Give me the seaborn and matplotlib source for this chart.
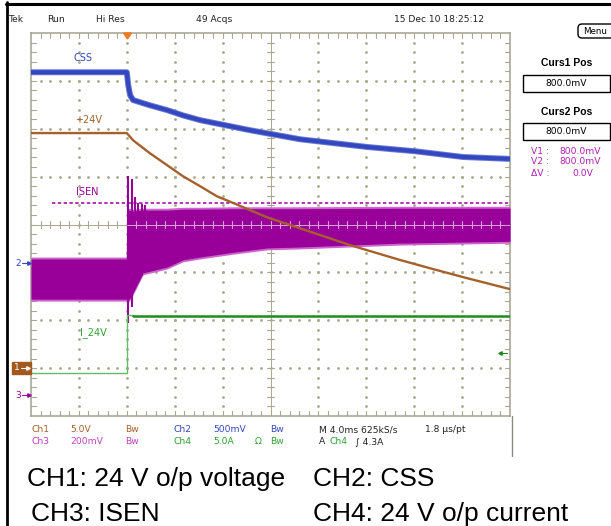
import numpy as np
import matplotlib
matplotlib.use("Agg")
import matplotlib.pyplot as plt
import seaborn as sns
import pandas as pd
from matplotlib import font_manager
from matplotlib.patches import FancyBboxPatch, Rectangle, Polygon

# ---------------- data (screen divisions: x 0..10, y 0..8) ----------------
css_x = [0.00, 2.00, 2.03, 2.07, 2.13, 2.48, 2.84, 3.17, 3.53, 4.57, 5.62, 7.01, 8.02, 9.02, 10.00]
css_y = [7.18, 7.18, 6.91, 6.70, 6.60, 6.49, 6.39, 6.28, 6.18, 5.97, 5.78, 5.62, 5.53, 5.41, 5.37]

v24_x = [0.00, 2.00, 2.13, 2.48, 2.84, 3.17, 3.53, 3.88, 4.22, 4.93, 5.62, 6.66, 7.70, 8.39, 9.10, 10.00]
v24_y = [5.91, 5.91, 5.76, 5.49, 5.24, 5.01, 4.80, 4.59, 4.45, 4.15, 3.92, 3.57, 3.26, 3.07, 2.88, 2.65]

isen_x  = [0.00, 1.99, 2.00, 2.04, 2.13, 2.34, 2.84, 3.17, 3.53, 4.22, 4.93, 5.62, 7.70, 10.00]
isen_hi = [3.28, 3.28, 4.30, 4.30, 4.28, 4.30, 4.30, 4.32, 4.32, 4.33, 4.33, 4.33, 4.34, 4.34]
isen_lo = [2.44, 2.44, 2.44, 2.42, 2.57, 2.99, 3.11, 3.26, 3.32, 3.42, 3.51, 3.53, 3.61, 3.65]

spk_x   = [2.03, 2.10, 2.17, 2.24, 2.31, 2.38]
spk_top = [5.01, 4.95, 4.57, 4.45, 4.42, 4.40]
spk_bot = [1.94, 2.28, 2.70, 2.85, 2.93, 3.00]

isen_ref_x = [0.44, 10.00]
isen_ref_y = [4.45, 4.45]

i24_pre_x  = [0.00, 2.00, 2.00, 2.13]
i24_pre_y  = [0.90, 0.90, 2.12, 2.12]
i24_post_x = [2.13, 10.00]
i24_post_y = [2.09, 2.09]

trace_labels = ["CSS", "+24V", "ISEN", "I_24V"]
bottom_labels = ["CH1: 24 V o/p voltage", "CH2: CSS", "CH3: ISEN", "CH4: 24 V o/p current"]

# ---------------- styling ----------------
sns.set_theme(style="white")
names = {f.name for f in font_manager.fontManager.ttflist}
NARROW = ['Liberation Sans Narrow', 'DejaVu Sans'] if 'Liberation Sans Narrow' in names else ['DejaVu Sans']
plt.rcParams['font.family'] = ['Liberation Sans', 'DejaVu Sans']

C_CSS = '#3347c0'
C_V24 = '#a5602c'
C_ISEN = '#990099'
C_ISEN_L = '#cc66cc'
C_I24 = '#1e8c1e'
C_I24_L = '#66bb66'
C_GRID = '#a9a98f'

W, H = 611, 526
fig = plt.figure(figsize=(W / 100, H / 100), dpi=100)
fig.patch.set_facecolor('white')

L, R, T, B = 31, 510, 33, 416
ax = fig.add_axes([L / W, (H - B) / H, (R - L) / W, (B - T) / H])
ax.set_xlim(0, 10)
ax.set_ylim(0, 8)
ax.set_xticks([])
ax.set_yticks([])
for s in ax.spines.values():
    s.set_color('#a0a090')
    s.set_linewidth(1.1)
ax.set_facecolor('white')

# graticule: dotted major lines
minor = np.arange(0.2, 8.0, 0.2)
for i in range(1, 10):
    if i != 5:
        ax.plot(np.full_like(minor, i), minor, ls='none', marker='o', ms=1.0, color=C_GRID, zorder=1)
minor_x = np.arange(0.2, 10.0, 0.2)
for j in range(1, 8):
    if j != 4:
        ax.plot(minor_x, np.full_like(minor_x, j), ls='none', marker='o', ms=1.0, color=C_GRID, zorder=1)
# center lines with ticks
ax.axvline(5, color=C_GRID, lw=0.7, zorder=1)
ax.axhline(4, color=C_GRID, lw=0.7, zorder=1)
tk = 0.075
for y in minor:
    ax.plot([5 - tk, 5 + tk], [y, y], color=C_GRID, lw=0.8, zorder=1)
    ax.plot([0, 0.1], [y, y], color=C_GRID, lw=0.8, zorder=1)
    ax.plot([9.9, 10], [y, y], color=C_GRID, lw=0.8, zorder=1)
for x in minor_x:
    ax.plot([x, x], [4 - tk, 4 + tk], color=C_GRID, lw=0.8, zorder=1)
    ax.plot([x, x], [7.9, 8], color=C_GRID, lw=0.8, zorder=1)
    ax.plot([x, x], [0, 0.1], color=C_GRID, lw=0.8, zorder=1)

# ---------------- traces ----------------
df_css = pd.DataFrame({'x': css_x, 'y': css_y})
df_v24 = pd.DataFrame({'x': v24_x, 'y': v24_y})
df_ipre = pd.DataFrame({'x': i24_pre_x, 'y': i24_pre_y})
df_ipost = pd.DataFrame({'x': i24_post_x, 'y': i24_post_y})
df_ref = pd.DataFrame({'x': isen_ref_x, 'y': isen_ref_y})

# ISEN band
ax.fill_between(isen_x, np.array(isen_lo) - 0.04, np.array(isen_hi) + 0.04, color=C_ISEN_L, lw=0, zorder=3)
ax.fill_between(isen_x, isen_lo, isen_hi, color=C_ISEN, lw=0, zorder=3)
ax.vlines(spk_x, spk_bot, spk_top, color=C_ISEN, lw=1.5, zorder=3)
# light centre graticule showing through the ISEN band
ax.plot([2.0, 10], [4, 4], color='#d9a0d9', lw=0.7, zorder=3.5)
for x in minor_x:
    if x > 2.05:
        ax.plot([x, x], [4 - tk, 4 + tk], color='#d9a0d9', lw=0.8, zorder=3.5)
sns.lineplot(data=df_ref, x='x', y='y', ax=ax, color=C_ISEN, lw=1.1, zorder=3,
             estimator=None, sort=False)
ax.lines[-1].set_dashes([2.2, 1.6])

sns.lineplot(data=df_css, x='x', y='y', ax=ax, color='#6a78d0', lw=4.3, zorder=4, estimator=None, sort=False)
sns.lineplot(data=df_css, x='x', y='y', ax=ax, color=C_CSS, lw=2.9, zorder=4, estimator=None, sort=False)
sns.lineplot(data=df_v24, x='x', y='y', ax=ax, color=C_V24, lw=1.7, zorder=5, estimator=None, sort=False)
sns.lineplot(data=df_ipre, x='x', y='y', ax=ax, color=C_I24_L, lw=1.0, zorder=5, estimator=None, sort=False)
sns.lineplot(data=df_ipost, x='x', y='y', ax=ax, color=C_I24, lw=1.8, zorder=5, estimator=None, sort=False)
ax.set_xlabel('')
ax.set_ylabel('')

# ---------------- overlay (pixel coordinates) ----------------
ov = fig.add_axes([0, 0, 1, 1], zorder=10)
ov.set_xlim(0, W)
ov.set_ylim(H, 0)
ov.axis('off')
ov.patch.set_alpha(0)

# frame lines
ov.plot([7, 7], [2, H], color='black', lw=2.0)
ov.plot([6, W], [3.5, 3.5], color='black', lw=2.2)
ov.plot([511.5, 511.5], [416, 456], color='#8a8a80', lw=1.0)

fs_s = 6.6
# top status bar
for txt, x in [("Tek", 9), ("Run", 47), ("Hi Res", 96), ("49 Acqs", 196), ("15 Dec 10 18:25:12", 394)]:
    ov.text(x, 19, txt, fontsize=fs_s, family=NARROW, color='#222222', ha='left', va='center')
# trigger marker
ov.add_patch(Polygon([[123.5, 33], [131.5, 33], [127.5, 39]], closed=True, color='#f07a20', zorder=12))

# trace labels
ov.text(83, 58, trace_labels[0], fontsize=7, family=NARROW, color=C_CSS, ha='center', va='center')
ov.text(89, 120, trace_labels[1], fontsize=7, family=NARROW, color=C_V24, ha='center', va='center')
ov.text(87, 192, trace_labels[2], fontsize=7, family=NARROW, color=C_ISEN, ha='center', va='center')
ov.text(93, 333, trace_labels[3], fontsize=7, family=NARROW, color='#33a033', ha='center', va='center')

# left channel markers
def marker(x, y, label, col):
    ov.text(x, y, label, fontsize=6.5, family=NARROW, color=col, ha='center', va='center', zorder=13)
    ov.plot([x + 4, x + 11], [y, y], color=col, lw=0.8, zorder=13)
    ov.plot([x + 10.5], [y], marker='>', ms=2.5, color=col, zorder=13)

marker(18, 263, "2", C_CSS)
ov.add_patch(Rectangle((12, 362), 19, 12, color='#a0581e', zorder=12))
marker(17, 368, "1", 'white')
marker(18, 395, "3", C_ISEN)
# right green arrow
ov.plot([499, 507], [353, 353], color=C_I24, lw=0.8)
ov.plot([499.5], [353], marker='<', ms=2.5, color=C_I24)

# bottom status rows
rows = [
    (430, [("Ch1", 31, C_V24), ("5.0V", 70, C_V24), ("Bw", 125, C_V24), ("Ch2", 174, C_CSS),
           ("500mV", 213, C_CSS), ("Bw", 270, C_CSS), ("M 4.0ms 625kS/s", 319, '#222222'),
           ("1.8 µs/pt", 425, '#222222')]),
    (442, [("Ch3", 31, '#c040c0'), ("200mV", 70, '#c040c0'), ("Bw", 125, '#c040c0'),
           ("Ch4", 174, '#30a030'), ("5.0A", 213, '#30a030'), ("Ω", 255, '#30a030'),
           ("Bw", 270, '#30a030'), ("A", 319, '#222222'), ("Ch4", 330, '#30a030'),
           ("∫ 4.3A", 355, '#222222')]),
]
for y, items in rows:
    for txt, x, c in items:
        ov.text(x, y, txt, fontsize=fs_s, family=NARROW, color=c, ha='left', va='center')

# right panel
ov.add_patch(FancyBboxPatch((578, 24), 36, 14, boxstyle="round,pad=0,rounding_size=4",
                            fc='white', ec='black', lw=1.0))
ov.text(595, 31, "Menu", fontsize=6.3, family=NARROW, color='black', ha='center', va='center')
ov.text(567, 63, "Curs1 Pos", fontsize=7.5, fontweight='bold', color='black', ha='center', va='center')
ov.add_patch(Rectangle((522.5, 75), 87, 17, fc='white', ec='black', lw=1.0))
ov.text(566, 83.5, "800.0mV", fontsize=6.6, family=NARROW, color='black', ha='center', va='center')
ov.text(567, 112, "Curs2 Pos", fontsize=7.5, fontweight='bold', color='black', ha='center', va='center')
ov.add_patch(Rectangle((522.5, 123), 87, 17, fc='white', ec='black', lw=1.0))
ov.text(566, 131.5, "800.0mV", fontsize=6.6, family=NARROW, color='black', ha='center', va='center')
PC = '#b020b0'
for y, lab, val, xr in [(152, "V1 :", "800.0mV", 601), (162, "V2 :", "800.0mV", 601), (174, "ΔV :", "0.0V", 593)]:
    ov.text(531, y, lab, fontsize=6.6, family=NARROW, color=PC, ha='left', va='center')
    ov.text(xr, y, val, fontsize=6.6, family=NARROW, color=PC, ha='right', va='center')

# caption
ov.text(27, 479, bottom_labels[0], fontsize=19, color='black', ha='left', va='center')
ov.text(313, 479, bottom_labels[1], fontsize=19, color='black', ha='left', va='center')
ov.text(31, 514, bottom_labels[2], fontsize=19, color='black', ha='left', va='center')
ov.text(313, 514, bottom_labels[3], fontsize=19, color='black', ha='left', va='center')

fig.savefig('out.png', dpi=100, facecolor='white')
